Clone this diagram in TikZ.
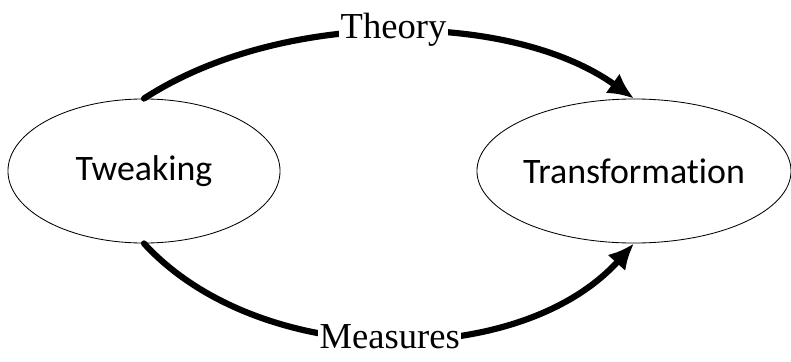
\documentclass[tikz,border=0pt]{standalone}
\usepackage{fontspec}
\setmainfont{Liberation Serif}
\newfontfamily\calibrifont[Ligatures=NoCommon]{Carlito}
\usetikzlibrary{shapes.geometric,arrows.meta}

\begin{document}
\begin{tikzpicture}[x=0.025cm,y=-0.025cm,
    oval/.style={draw,ellipse,line width=0.6pt,minimum height=3.6cm,inner sep=0pt,font=\calibrifont\fontsize{25.5}{30}\selectfont},
    flow/.style={line width=4.4pt,line cap=round},
    lbl/.style={fill=white,inner sep=1pt,font=\fontsize{26}{30}\selectfont}]
  \useasboundingbox (0,0) rectangle (791,362);
  \node[oval,minimum width=6.8cm] (tweak) at (144,171) {Tweaking};
  \node[oval,minimum width=7.85cm] (trans) at (634,171) {Transformation};
  % theory on top, measures below
  \draw[flow,-{Latex[length=6.5mm,width=6mm]}] (tweak.north) .. controls (280,10) and (510,10) .. node[lbl,yshift=2pt] (theory) {Theory} (trans.north);
  \draw[flow,-{Latex[length=6.5mm,width=6mm]}] (tweak.south) .. controls (260,370) and (520,370) .. node[lbl,yshift=1pt] (measures) {Measures} (trans.south);
\end{tikzpicture}
\end{document}
